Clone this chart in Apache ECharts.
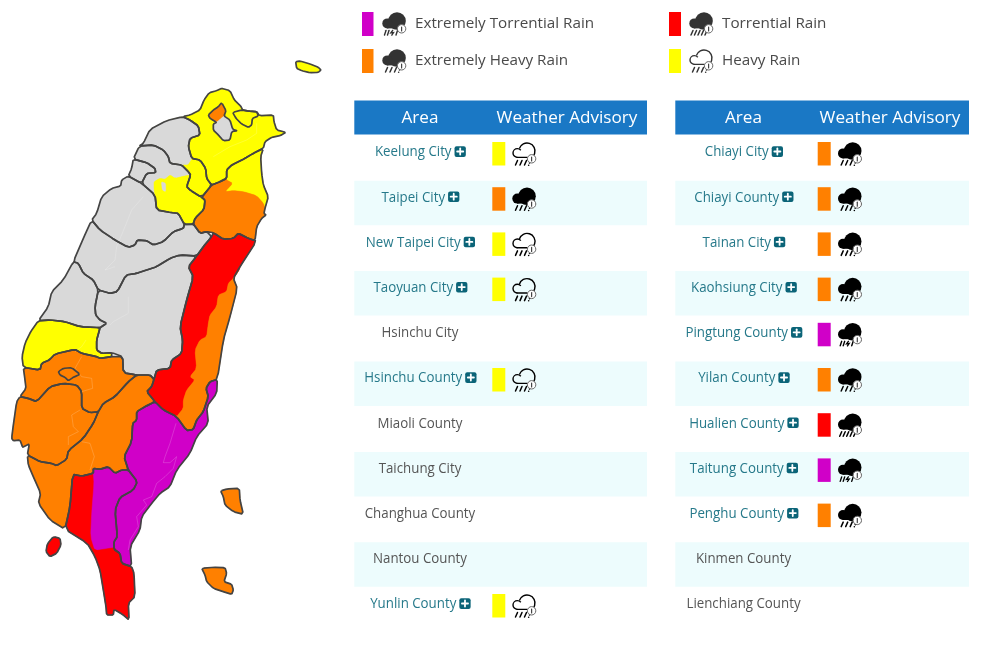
<!DOCTYPE html>
<html><head><meta charset="utf-8"><style>html,body{margin:0;padding:0;background:#fff}#c{width:1000px;height:647px}</style>
<script src="https://cdn.jsdelivr.net/npm/echarts@6/dist/echarts.min.js"></script></head>
<body><div id="c"></div><script>
// ---------- table data ----------
const leftAreas = ['Keelung City','Taipei City','New Taipei City','Taoyuan City','Hsinchu City','Hsinchu County','Miaoli County','Taichung City','Changhua County','Nantou County','Yunlin County'];
const leftLevels = ['H','EH','H','H',null,'H',null,null,null,null,'H'];
const rightAreas = ['Chiayi City','Chiayi County','Tainan City','Kaohsiung City','Pingtung County','Yilan County','Hualien County','Taitung County','Penghu County','Kinmen County','Lienchiang County'];
const rightLevels = ['EH','EH','EH','EH','ET','EH','T','ET','EH',null,null];
const legendItems = [['ET','Extremely Torrential Rain'],['T','Torrential Rain'],['EH','Extremely Heavy Rain'],['H','Heavy Rain']];
const levelColor = {N:'#D9D9D9',H:'#FFFF00',EH:'#FF8000',T:'#FF0000',ET:'#D000C8'};

// ---------- map outlines (trace units) ----------
const northIsland=[[887,35],[900,33],[930,42],[955,52],[963,60],[955,67],[930,68],[905,62],[890,55]];
const newTaipei=[[548,200],[570,195],[600,180],[612,150],[628,128],[650,122],[665,115],[690,122],[703,150],[722,168],[728,180],[745,183],[770,185],[778,197],[820,195],[822,215],[830,240],[858,247],[840,257],[815,262],[795,275],[790,295],[760,310],[735,325],[695,345],[680,360],[680,385],[660,395],[635,405],[620,385],[617,355],[600,330],[575,325],[565,290],[570,265],[600,255],[595,228],[570,210]];
const keelung=[[698,187],[725,180],[745,183],[770,185],[775,198],[757,205],[755,225],[745,232],[725,222],[708,205]];
const taipeiN=[[665,158],[678,182],[672,198],[650,217],[630,205],[625,195],[640,180],[655,170]];
const taipeiS=[[672,198],[690,210],[698,238],[712,242],[695,245],[690,270],[670,272],[655,255],[640,240],[640,222],[650,217]];
const taipeiAll=[[665,158],[678,182],[672,198],[690,210],[698,238],[712,242],[695,245],[690,270],[670,272],[655,255],[640,240],[640,222],[650,217],[630,205],[625,195],[640,180],[655,170]];
const taoyuanN=[[548,200],[500,212],[450,238],[430,280],[418,288],[460,285],[490,300],[505,320],[510,340],[545,345],[565,345],[575,328],[565,290],[570,265],[600,255],[595,228],[570,210]];
const taoyuanS=[[545,345],[565,345],[575,328],[600,330],[617,355],[620,385],[635,405],[605,442],[570,420],[560,410],[572,375],[565,365]];
const taoyuanAll=[[548,200],[500,212],[450,238],[430,280],[418,288],[460,285],[490,300],[505,320],[510,340],[545,345],[565,365],[572,375],[560,410],[570,420],[605,442],[635,405],[620,385],[617,355],[600,330],[575,325],[565,290],[570,265],[600,255],[595,228],[570,210]];
const hsinchuCoN=[[418,288],[400,327],[440,338],[465,355],[467,368],[440,370],[425,400],[465,435],[462,415],[462,395],[480,385],[495,388],[510,375],[525,385],[555,378],[572,375],[565,365],[545,345],[510,340],[505,320],[490,300],[460,285]];
const hsinchuCoS=[[465,435],[470,480],[515,488],[535,490],[553,523],[580,522],[585,505],[612,478],[615,450],[605,442],[570,420],[560,410],[572,375],[555,378],[525,385],[510,375],[495,388],[480,385],[462,395],[462,415]];
const hsinchuCoNotch=[[484,395],[497,400],[497,425],[487,420]];
const hsinchuCoAll=[[418,288],[400,327],[440,338],[465,355],[467,368],[440,370],[425,400],[465,435],[470,480],[515,488],[535,490],[553,523],[580,522],[585,505],[612,478],[615,450],[605,442],[570,420],[560,410],[572,375],[565,365],[545,345],[510,340],[505,320],[490,300],[460,285]];
const hsinchuCity=[[400,327],[440,338],[465,355],[467,368],[440,370],[425,400],[385,378],[395,355]];
const yilanN=[[790,295],[782,320],[785,370],[790,405],[805,440],[795,475],[790,460],[770,437],[730,425],[700,422],[675,425],[698,400],[680,390],[680,360],[695,345],[735,325],[760,310]];
const yilanS=[[605,442],[635,405],[660,395],[680,390],[698,400],[675,425],[700,422],[730,425],[770,437],[790,460],[795,475],[792,490],[798,495],[785,505],[770,530],[765,572],[745,565],[715,550],[700,565],[670,568],[640,548],[620,545],[600,550],[580,522],[585,505],[612,478],[615,450]];
const yilanAll=[[790,295],[782,320],[785,370],[790,405],[805,440],[795,475],[792,490],[798,495],[785,505],[770,530],[765,572],[745,565],[715,550],[700,565],[670,568],[640,548],[620,545],[600,550],[580,522],[585,505],[612,478],[615,450],[605,442],[635,405],[660,395],[680,385],[680,360],[695,345],[735,325],[760,310]];
const miaoli=[[385,378],[365,390],[362,408],[335,415],[305,440],[290,490],[275,510],[300,540],[345,570],[385,592],[405,585],[412,570],[440,572],[460,585],[490,575],[520,545],[550,535],[553,523],[535,490],[515,488],[470,480],[465,435],[425,400]];
const taichung=[[275,510],[250,565],[220,635],[235,640],[250,670],[280,690],[295,720],[330,730],[352,725],[378,675],[410,670],[440,660],[470,650],[510,625],[540,615],[590,618],[610,590],[635,560],[620,545],[600,550],[580,522],[553,523],[550,535],[520,545],[490,575],[460,585],[440,572],[412,570],[405,585],[385,592],[345,570],[300,540]];
const changhua=[[220,635],[190,690],[155,725],[145,770],[115,812],[150,810],[195,815],[240,830],[300,833],[320,820],[300,810],[287,795],[285,770],[295,720],[280,690],[250,670],[235,640]];
const nantou=[[295,720],[285,770],[287,795],[300,810],[320,820],[300,833],[297,845],[290,870],[290,900],[305,910],[335,908],[368,920],[370,968],[410,975],[450,975],[462,988],[470,960],[510,955],[515,930],[545,910],[548,870],[540,830],[560,750],[580,680],[565,650],[590,618],[540,615],[510,625],[470,650],[440,660],[410,670],[378,675],[352,725],[330,730]];
const yunlin=[[115,812],[150,810],[195,815],[240,830],[300,833],[297,845],[290,870],[290,900],[305,910],[335,908],[335,920],[300,925],[290,920],[245,910],[225,898],[165,912],[148,930],[125,940],[120,960],[70,952],[66,920],[75,880],[92,845]];
const chiayiCo=[[70,952],[120,960],[125,940],[148,930],[165,912],[225,898],[245,910],[290,920],[300,925],[335,920],[368,920],[370,968],[410,975],[385,995],[345,1040],[310,1060],[295,1085],[270,1088],[245,1075],[245,1025],[230,1005],[190,1000],[150,1010],[110,1055],[85,1045],[60,1040],[78,1015],[75,990]];
const chiayiCity=[[175,965],[190,955],[215,953],[240,973],[220,982],[205,992],[195,982],[180,975]];
const tainan=[[60,1040],[50,1055],[40,1125],[35,1165],[40,1172],[60,1170],[68,1192],[75,1188],[88,1182],[82,1215],[120,1235],[155,1240],[170,1247],[200,1228],[205,1202],[250,1165],[280,1120],[295,1085],[270,1088],[245,1075],[245,1025],[230,1005],[190,1000],[150,1010],[110,1055],[85,1045]];
const kaohsiung=[[82,1215],[85,1245],[100,1280],[122,1330],[115,1360],[150,1410],[195,1438],[210,1370],[218,1273],[245,1278],[280,1270],[280,1255],[300,1258],[325,1250],[345,1270],[365,1260],[385,1260],[372,1220],[395,1175],[398,1120],[410,1110],[410,1085],[435,1070],[465,1055],[440,1025],[455,1010],[462,988],[450,975],[410,975],[385,995],[345,1040],[310,1060],[295,1085],[280,1120],[250,1165],[205,1202],[200,1228],[170,1247],[155,1240],[120,1235]];
const hualienW=[[590,618],[565,650],[580,680],[560,750],[540,830],[548,870],[545,910],[515,930],[510,955],[470,960],[462,988],[455,1010],[440,1025],[465,1055],[490,1080],[530,1100],[550,1075],[550,1050],[560,1020],[585,990],[570,980],[590,955],[585,900],[600,870],[620,860],[625,820],[630,795],[650,770],[655,735],[680,725],[685,700],[700,685],[718,660],[720,650],[770,573],[745,565],[715,550],[700,565],[670,568],[640,548],[635,560],[610,590]];
const hualienE=[[718,660],[700,685],[685,700],[680,725],[655,735],[650,770],[630,795],[625,820],[620,860],[600,870],[585,900],[590,955],[570,980],[585,990],[560,1020],[550,1050],[550,1075],[530,1100],[560,1142],[580,1138],[590,1110],[610,1085],[625,1040],[618,1015],[630,995],[652,988],[670,870],[690,800],[712,715],[700,685]];
const hualienAll=[[590,618],[565,650],[580,680],[560,750],[540,830],[548,870],[545,910],[515,930],[510,955],[470,960],[462,988],[455,1010],[440,1025],[465,1055],[490,1080],[530,1100],[560,1142],[580,1138],[590,1110],[610,1085],[625,1040],[618,1015],[630,995],[652,988],[670,870],[690,800],[712,715],[700,685],[720,650],[770,573],[745,565],[715,550],[700,565],[670,568],[640,548],[635,560],[610,590]];
const taitung=[[465,1055],[490,1080],[530,1100],[560,1142],[580,1138],[590,1110],[610,1085],[625,1040],[618,1015],[630,995],[652,988],[650,1030],[620,1070],[625,1120],[590,1160],[570,1210],[530,1260],[510,1310],[480,1330],[455,1360],[425,1400],[420,1440],[390,1490],[395,1550],[365,1540],[360,1510],[342,1498],[342,1475],[352,1460],[345,1380],[360,1342],[400,1320],[412,1295],[385,1260],[372,1220],[395,1175],[398,1120],[410,1110],[410,1085],[435,1070]];
const pingtungW=[[218,1273],[245,1278],[280,1270],[282,1300],[275,1390],[272,1460],[285,1502],[285,1520],[262,1480],[195,1438],[210,1370]];
const pingtungM=[[280,1255],[300,1258],[325,1250],[345,1270],[365,1260],[385,1260],[412,1295],[400,1320],[360,1342],[345,1380],[352,1460],[342,1475],[342,1493],[285,1502],[272,1460],[275,1390],[282,1300],[280,1270]];
const pingtungS=[[285,1520],[285,1502],[342,1493],[360,1510],[365,1540],[395,1550],[402,1570],[405,1640],[385,1660],[387,1710],[370,1695],[342,1678],[340,1695],[320,1695],[318,1670],[310,1620],[300,1560]];
const pingtungAll=[[195,1438],[210,1370],[218,1273],[245,1278],[280,1270],[280,1255],[300,1258],[325,1250],[345,1270],[365,1260],[385,1260],[412,1295],[400,1320],[360,1342],[345,1380],[352,1460],[342,1475],[342,1498],[360,1510],[365,1540],[395,1550],[402,1570],[405,1640],[385,1660],[387,1710],[370,1695],[342,1678],[340,1695],[320,1695],[318,1670],[310,1620],[300,1560],[285,1520],[262,1480]];
const liuqiu=[[160,1460],[180,1465],[183,1485],[170,1510],[150,1520],[138,1505],[142,1482]];
const greenIsland=[[662,1323],[680,1317],[718,1315],[720,1350],[730,1393],[700,1385],[675,1365],[670,1340]];
const orchidIsland=[[605,1555],[640,1552],[675,1553],[680,1570],[672,1595],[695,1603],[700,1620],[695,1633],[670,1625],[640,1615],[620,1595],[615,1575]];

// [name, ring, advisory level] — "base" rings sit under split counties
const fillRegions=[
['Northern islet',northIsland,'H'],['New Taipei',newTaipei,'H'],['Keelung',keelung,'H'],['Taipei base',taipeiAll,'N'],['Taipei north',taipeiN,'EH'],['Taipei south',taipeiS,'N'],
['Taoyuan base',taoyuanAll,'H'],['Taoyuan north',taoyuanN,'N'],['Taoyuan south',taoyuanS,'H'],['Hsinchu County base',hsinchuCoAll,'H'],['Hsinchu County north',hsinchuCoN,'N'],['Hsinchu County south',hsinchuCoS,'H'],['Hsinchu County notch',hsinchuCoNotch,'N'],['Hsinchu City',hsinchuCity,'N'],
['Yilan base',yilanAll,'EH'],['Yilan north',yilanN,'H'],['Yilan south',yilanS,'EH'],['Miaoli',miaoli,'N'],['Taichung',taichung,'N'],['Changhua',changhua,'N'],['Nantou',nantou,'N'],['Yunlin',yunlin,'H'],
['Chiayi County',chiayiCo,'EH'],['Chiayi City',chiayiCity,'EH'],['Tainan',tainan,'EH'],['Kaohsiung',kaohsiung,'EH'],['Hualien base',hualienAll,'EH'],['Hualien west',hualienW,'T'],['Hualien east',hualienE,'EH'],['Taitung',taitung,'ET'],
['Pingtung base',pingtungAll,'T'],['Pingtung west',pingtungW,'T'],['Pingtung mid',pingtungM,'ET'],['Pingtung south',pingtungS,'T'],['Liuqiu',liuqiu,'T'],['Green Island',greenIsland,'EH'],['Orchid Island',orchidIsland,'EH']];
const outlineRings=[northIsland,newTaipei,keelung,taipeiAll,taoyuanAll,hsinchuCoAll,hsinchuCity,yilanAll,miaoli,taichung,changhua,nantou,yunlin,chiayiCo,chiayiCity,tainan,kaohsiung,hualienAll,taitung,pingtungAll,liuqiu,greenIsland,orchidIsland];
const townLines=[
[[770,220],[770,250],[740,270],[690,290],[640,320]],
[[430,440],[395,480],[375,530],[350,590],[345,630],[315,660],[345,650]],
[[385,740],[385,790],[340,815],[330,825]],
[[258,870],[245,890],[225,905]],
[[245,920],[225,955],[245,980],[275,985],[278,1015],[245,1025]],
[[240,1080],[215,1095],[220,1130],[235,1145],[205,1160],[205,1185]],
[[245,1175],[270,1180],[283,1220],[270,1260]],
[[528,1120],[510,1180],[495,1220],[490,1238],[510,1238],[530,1220],[520,1255],[495,1280],[470,1300],[455,1340],[430,1350],[440,1365],[410,1400],[415,1430],[390,1470],[385,1500]]];

// slight corner rounding for the traced rings (closed)
function soften(r){const t=.16,o=[];for(let i=0;i<r.length;i++){const a=r[i],b=r[(i+1)%r.length];o.push([a[0]*(1-t)+b[0]*t,a[1]*(1-t)+b[1]*t],[a[0]*t+b[0]*(1-t),a[1]*t+b[1]*(1-t)]);}return o;}
const geo={type:'FeatureCollection',features:fillRegions.map(([name,ring])=>({type:'Feature',properties:{name},geometry:{type:'Polygon',coordinates:[soften(ring).map(p=>[p[0],-p[1]])]}}))};
echarts.registerMap('tw',geo);
const toLL=r=>r.map(p=>[p[0],-p[1]]);

// ---------- page helpers ----------
const FONT='"Open Sans"';
const mctx=document.createElement('canvas').getContext('2d');
const LABEL_SIZE=14, LABEL_SX=0.95;
function textW(t,size){mctx.font=size+'px '+FONT;return mctx.measureText(t).width;}
const g=[];
function rect(x,y,w,h,fill,extra){return Object.assign({type:'rect',shape:{x,y,width:w,height:h},style:{fill},silent:true},extra||{});}
function line(x1,y1,x2,y2,stroke,lw){return {type:'line',shape:{x1,y1,x2,y2},style:{stroke,lineWidth:lw,lineCap:'round'},silent:true};}
function label(t,x,y,size,fill,align,sx){return {type:'text',x,y,scaleX:sx||1,silent:true,style:{text:t,x:0,y:0,fill,fontFamily:FONT,fontSize:size,textAlign:align,textVerticalAlign:'middle'}};}
function icon(x,y,lvl,col){
 const c=[];
 if(lvl==='H'){
  c.push({type:'arc',shape:{cx:15,cy:9,r:8,startAngle:3.45,endAngle:0.7,clockwise:true},style:{stroke:col,lineWidth:1.4,fill:'none'}});
  c.push({type:'arc',shape:{cx:5.4,cy:11,r:4.4,startAngle:1.57,endAngle:5.6,clockwise:true},style:{stroke:col,lineWidth:1.4,fill:'none'}});
  c.push(line(5,15.4,15,15.4,col,1.4));
 } else {
  c.push({type:'circle',shape:{cx:15,cy:9,r:8.8},style:{fill:col}});
  c.push({type:'circle',shape:{cx:5.3,cy:11.4,r:5},style:{fill:col}});
  c.push(rect(5,11,16,5.4,col));
 }
 if(lvl==='H'||lvl==='EH'){
  [[3.5,23,5.5,18.5],[8,23,10,18.5],[12.5,23,14.5,18.5],[17.5,21,18.5,18.5]].forEach(a=>c.push(line(a[0],a[1],a[2],a[3],col,1.5)));
  c.push(line(16.6,23.2,16.7,23.2,col,1.5));
 } else if(lvl==='T'){
  [[2,23,4,18.5],[5.5,23,7.5,18.5],[9,23,11,18.5],[12.5,23,14.5,18.5],[16,23,18,18.5]].forEach(a=>c.push(line(a[0],a[1],a[2],a[3],col,1.5)));
 } else {
  [[2.5,23,4,18.5],[5.5,23,7,18.5],[14,23,15.5,18.5]].forEach(a=>c.push(line(a[0],a[1],a[2],a[3],col,1.4)));
  c.push({type:'polyline',shape:{points:[[11,18],[8.8,21],[11.5,20.6],[9.5,23.6]]},style:{stroke:col,lineWidth:1.3,fill:'none'}});
 }
 c.push({type:'circle',shape:{cx:19.6,cy:16.8,r:4.2},style:{fill:'#fff',stroke:'#666',lineWidth:1}});
 c.push(line(19.6,15,19.6,19,'#444',1.2));
 return {type:'group',x,y,silent:true,children:c};
}
// legend
const legendPos=[[362,12,382,415],[669,12,689,722],[362,49,382,415],[669,49,689,722]];
legendItems.forEach(([lvl,name],i)=>{const p=legendPos[i];
 g.push(rect(p[0],p[1],lvl==='ET'||lvl==='EH'?11.5:12,24,levelColor[lvl]));
 g.push(icon(p[2],p[1],lvl,'#333'));
 g.push(label(name,p[3],p[1]+12,14.5,'#4a4a4a','left',1.05));
});
// tables
function table(x0,w,areaCx,advCx,swX,icX,areas,levels){
 g.push(rect(x0,100.5,w,34,'#1A78C5'));
 g.push(label('Area',areaCx,118,16,'#fff','center',1.07));
 g.push(label('Weather Advisory',advCx,118,16,'#fff','center',1.07));
 areas.forEach((name,i)=>{
  const top=135+45.2*i, cy=top+17.5;
  if(i%2===1) g.push(rect(x0,top+0.5,w,44.5,'#EDFCFD'));
  const lvl=levels[i];
  if(lvl){
   const tw=textW(name,LABEL_SIZE)*LABEL_SX, start=areaCx+0.5-(tw+14.5)/2;
   g.push(label(name,start,cy,LABEL_SIZE,'#26798A','left',LABEL_SX));
   const bx=start+tw+3;
   g.push(rect(bx,cy-6.2,11.3,10.6,'#0B6478',{shape:{x:bx,y:cy-6.2,width:11.3,height:10.6,r:2}}));
   g.push(line(bx+2.6,cy-1,bx+8.7,cy-1,'#fff',1.8));
   g.push(line(bx+5.65,cy-4,bx+5.65,cy+2,'#fff',1.8));
   g.push(rect(swX,top+7,13,23.5,levelColor[lvl]));
   g.push(icon(icX,top+7,lvl,'#000'));
  } else {
   g.push(label(name,areaCx,cy,LABEL_SIZE,'#555','center',LABEL_SX));
  }
 });
}
table(354.3,292.7,420,567,492.3,512,leftAreas,leftLevels);
table(675.3,293.7,743.5,890,817.7,837.7,rightAreas,rightLevels);

const chart=echarts.init(document.getElementById('c'),null,{renderer:'canvas'});
chart.setOption({
 animation:false,
 backgroundColor:'#fff',
 geo:{map:'tw',roam:false,silent:true,aspectScale:1,boundingCoords:[[0,150],[3000,-1791]],left:0,top:0,width:1000,height:647,
  label:{show:false},
  regions:fillRegions.map(([name,,lvl])=>({name,itemStyle:{areaColor:levelColor[lvl],borderColor:levelColor[lvl],borderWidth:0.5}}))},
 series:[
  {type:'lines',coordinateSystem:'geo',polyline:true,silent:true,z:3,data:townLines.map(r=>({coords:toLL(r)})),lineStyle:{color:'rgba(255,255,255,0.45)',width:0.8}},
  {type:'lines',coordinateSystem:'geo',polyline:true,silent:true,z:4,data:outlineRings.map(r=>{const s=soften(r);return {coords:toLL(s.concat([s[0]]))};}),lineStyle:{color:'#444',width:1.7,join:'round',opacity:1}}
 ],
 graphic:{elements:g}
});
</script></body></html>
